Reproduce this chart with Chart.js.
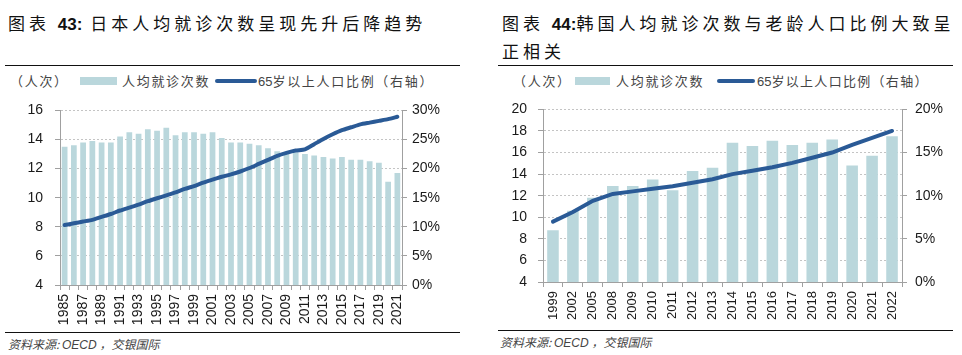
<!DOCTYPE html>
<html><head><meta charset="utf-8">
<script src="https://cdn.jsdelivr.net/npm/chart.js@4.4.1/dist/chart.umd.min.js"></script>
<style>
html,body{margin:0;padding:0;background:#fff;width:962px;height:355px;overflow:hidden;position:relative;font-family:"Noto Sans CJK SC",sans-serif;}
.t{position:absolute;font-size:17px;letter-spacing:4px;color:#111;white-space:nowrap;line-height:26px;}
.t b{font-family:"Liberation Sans",Arial,sans-serif;font-weight:bold;letter-spacing:0;}
.hr{position:absolute;height:0;border-top:1.5px solid #111;}
.lg{position:absolute;font-size:13px;letter-spacing:1.7px;color:#444;white-space:nowrap;line-height:16px;}
.sw{position:absolute;}
.src{position:absolute;font-size:12px;font-style:italic;color:#444;white-space:nowrap;}
.src i{font-family:"Liberation Sans",Arial,sans-serif;}
canvas{position:absolute;}
</style></head><body>
<div class="t" style="left:8px;top:10px;">图表 <b>43:</b> 日本人均就诊次数呈现先升后降趋势</div>
<div class="t" style="left:502px;top:10px;">图表 <b>44:</b>韩国人均就诊次数与老龄人口比例大致呈<br>正相关</div>
<div class="hr" style="left:5px;width:455px;top:65px;"></div>
<div class="hr" style="left:498px;width:455px;top:65px;"></div>

<div class="lg" style="left:10px;top:73px;">（人次）</div>
<div class="sw" style="left:80px;top:77px;width:37px;height:8px;background:#bad7dc;"></div>
<div class="lg" style="left:122px;top:73px;">人均就诊次数</div>
<div class="sw" style="left:215px;top:79px;width:42px;height:4px;border-radius:2px;background:#2a5a96;"></div>
<div class="lg" style="left:258px;top:73px;"><span style="font-family:'Liberation Sans',Arial;letter-spacing:0">65</span>岁以上人口比例（右轴）</div>

<div class="lg" style="left:513px;top:73px;">（人次）</div>
<div class="sw" style="left:575px;top:77px;width:35px;height:8px;background:#bad7dc;"></div>
<div class="lg" style="left:616px;top:73px;">人均就诊次数</div>
<div class="sw" style="left:717px;top:79px;width:38px;height:4px;border-radius:2px;background:#2a5a96;"></div>
<div class="lg" style="left:757px;top:73px;letter-spacing:1.3px;"><span style="font-family:'Liberation Sans',Arial;letter-spacing:0">65</span>岁以上人口比例（右轴）</div>

<div class="hr" style="left:5px;width:455px;top:332px;"></div>
<div class="hr" style="left:498px;width:455px;top:330px;"></div>
<div class="src" style="left:8px;top:335px;">资料来源: <i>OECD</i> ，交银国际</div>
<div class="src" style="left:500px;top:333px;">资料来源: <i>OECD</i> ，交银国际</div>

<canvas id="c1" width="470" height="245" style="left:0;top:90px;width:470px;height:245px;"></canvas>
<canvas id="c2" width="479" height="242" style="left:483px;top:90px;width:479px;height:242px;"></canvas>
<script>
const jpYears = ['1985','1986','1987','1988','1989','1990','1991','1992','1993','1994','1995','1996','1997','1998','1999','2000','2001','2002','2003','2004','2005','2006','2007','2008','2009','2010','2011','2012','2013','2014','2015','2016','2017','2018','2019','2020','2021'];
const jpVisits = [13.5,13.6,13.8,13.9,13.8,13.8,14.2,14.5,14.4,14.7,14.6,14.8,14.3,14.5,14.5,14.4,14.5,14.1,13.8,13.8,13.7,13.6,13.4,13.2,13.1,13.1,13.0,12.9,12.8,12.7,12.8,12.6,12.6,12.5,12.4,11.1,11.7];
const jpAged = [10.3,10.6,10.9,11.2,11.7,12.2,12.8,13.3,13.8,14.4,14.9,15.4,15.9,16.5,17.0,17.6,18.1,18.6,19.0,19.5,20.1,20.8,21.5,22.2,22.7,23.1,23.3,24.2,25.1,25.9,26.6,27.1,27.6,27.9,28.2,28.5,28.9];
const jpLeftTicks = [4,16,2];
const jpRightTicks = [0,30,5];

const krYears = ['1999','2002','2005','2008','2009','2010','2011','2012','2013','2014','2015','2016','2017','2018','2019','2020','2021','2022'];
const krVisits = [8.8,10.6,11.8,12.9,12.9,13.5,12.5,14.3,14.6,16.9,16.6,17.1,16.7,16.9,17.2,14.8,15.7,17.5];
const krAged = [7.0,8.1,9.4,10.2,10.5,10.8,11.1,11.5,11.9,12.5,12.9,13.3,13.8,14.4,15.0,15.9,16.7,17.5];
const krLeftTicks = [4,20,2];
const krRightTicks = [0,20,5];

const BAR = '#bad7dc', LINE = '#2a5a96', GRID = '#c4c4c4', AXIS = '#a0a0a0', TXT = '#1a1a1a';
const numFont = {family:'"Liberation Sans", Arial, sans-serif', size:14};

function make(id, labels, bars, line, lt, rt, o){
  new Chart(document.getElementById(id), {
    data:{labels, datasets:[
      {type:'line', data:line, yAxisID:'y1', borderColor:LINE, borderWidth:4, pointRadius:0, tension:o.tension, borderCapStyle:'round', order:0},
      {type:'bar', data:bars, yAxisID:'y', backgroundColor:BAR, barPercentage:o.bp, categoryPercentage:1, order:1}
    ]},
    options:{
      responsive:false, animation:false, devicePixelRatio:1,
      layout:{padding:{top:17,left:0,right:0,bottom:0}},
      plugins:{legend:{display:false}, tooltip:{enabled:false}},
      scales:{
        x:{
          grid:{drawOnChartArea:false, drawTicks:true, tickLength:5, tickColor:AXIS, offset:true},
          border:{color:AXIS, width:1},
          ticks:{autoSkip:false, minRotation:90, maxRotation:90, padding:o.xpad, color:TXT, font:{family:numFont.family, size:o.xfs},
            callback:function(v,i){ return (i % o.every === 0) ? labels[i] : ''; }},
          afterFit:s=>{s.height=50;}
        },
        y:{
          position:'left', min:lt[0], max:lt[1],
          ticks:{stepSize:lt[2], padding:o.lpad, color:TXT, font:numFont},
          grid:{color:GRID, tickColor:AXIS, tickLength:5, lineWidth:1},
          border:{color:AXIS, width:1, dash:[2,2]},
          afterFit:s=>{s.width=o.lw;}
        },
        y1:{
          position:'right', min:rt[0], max:rt[1],
          ticks:{stepSize:rt[2], padding:o.rpad, color:TXT, font:numFont, callback:v=>v+'%'},
          grid:{drawOnChartArea:false, tickColor:AXIS, tickLength:5},
          border:{color:AXIS, width:1},
          afterFit:s=>{s.width=o.rw;}
        }
      }
    }
  });
}
make('c1', jpYears, jpVisits, jpAged, jpLeftTicks, jpRightTicks, {tension:0.2, bp:0.62, xpad:4, xfs:14, every:2, lpad:12, rpad:5, lw:60, rw:68});
make('c2', krYears, krVisits, krAged, krLeftTicks, krRightTicks, {tension:0, bp:0.58, xpad:4, xfs:13, every:1, lpad:11, rpad:8, lw:60, rw:60});
</script>
</body></html>
